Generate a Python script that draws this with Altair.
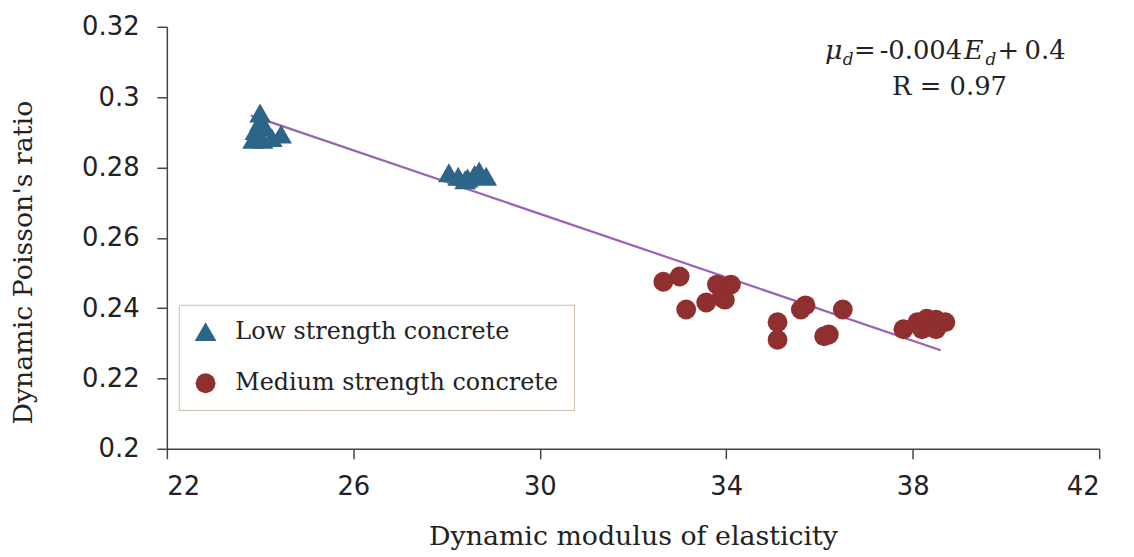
import altair as alt
import pandas as pd

# ---- data ----
low_x = [24.0, 23.9, 24.1, 23.85, 24.05, 24.25, 24.45, 24.0]
low_y = [0.2955, 0.2905, 0.2915, 0.2880, 0.2880, 0.2885, 0.2895, 0.2930]

low2_x = [28.05, 28.25, 28.45, 28.6, 28.7, 28.85, 28.4]
low2_y = [0.2785, 0.2775, 0.2770, 0.2780, 0.2790, 0.2775, 0.2765]

med_x = [32.65, 33.0, 33.14, 33.57, 33.9, 33.8, 34.1, 33.97, 35.1, 35.1,
         35.6, 35.7, 36.1, 36.2, 36.5, 37.8, 38.1, 38.2, 38.4, 38.5, 38.7, 38.3, 38.5]
med_y = [0.2475, 0.2490, 0.2396, 0.2416, 0.2430, 0.2467, 0.2467, 0.2424, 0.2360, 0.2310,
         0.2396, 0.2408, 0.2320, 0.2325, 0.2396, 0.2340, 0.2360, 0.2340, 0.2356, 0.2367,
         0.2360, 0.2370, 0.2340]

fit_x = [23.8, 38.6]
fit_y = [0.2948, 0.2280]

series_names = ["Low strength concrete", "Medium strength concrete"]
x_ticks = [22, 26, 30, 34, 38, 42]
y_ticks = [0.2, 0.22, 0.24, 0.26, 0.28, 0.3, 0.32]

rows = []
for x, y in zip(low_x + low2_x, low_y + low2_y):
    rows.append({"E": x, "mu": y, "type": series_names[0]})
for x, y in zip(med_x, med_y):
    rows.append({"E": x, "mu": y, "type": series_names[1]})
df = pd.DataFrame(rows)
fit_df = pd.DataFrame({"E": fit_x, "mu": fit_y})

SERIF = "DejaVu Serif"
SANS = "DejaVu Sans"

xscale = alt.Scale(domain=[22, 42], nice=False, zero=False)
yscale = alt.Scale(domain=[0.2, 0.32], nice=False, zero=False)

xaxis = alt.Axis(values=x_ticks, title="Dynamic modulus of elasticity", grid=False,
                 labelFont=SANS, labelFontSize=26, labelColor="#222222",
                 labelPadding=15, tickSize=10, tickColor="#444444", tickWidth=1.5,
                 domainColor="#444444", domainWidth=1.5,
                 titleFont=SERIF, titleFontSize=27, titleFontWeight="normal",
                 titleColor="#222222", titleY=96, titleBaseline="alphabetic")
yaxis = alt.Axis(values=y_ticks, title="Dynamic Poisson's ratio", grid=False,
                 labelFont=SANS, labelFontSize=26, labelColor="#222222",
                 labelPadding=18, tickSize=10, tickColor="#444444", tickWidth=1.5,
                 domainColor="#444444", domainWidth=1.5,
                 labelExpr="format(datum.value, '.2~f')",
                 titleFont=SERIF, titleFontSize=27, titleFontWeight="normal",
                 titleColor="#222222", titleAngle=-90, titleAlign="center",
                 titleBaseline="alphabetic", titleX=-136, titleY=237)

legend = alt.Legend(
    title=None, orient="none", legendX=12, legendY=280,
    strokeColor="#cdbca8", fillColor="white", padding=15,
    labelFont=SERIF, labelFontSize=24, labelColor="#222222", labelLimit=400,
    symbolSize=420, rowPadding=28, labelOffset=18, symbolStrokeWidth=0,
)

points = alt.Chart(df).mark_point(filled=True, opacity=1).encode(
    x=alt.X("E:Q", scale=xscale, axis=xaxis),
    y=alt.Y("mu:Q", scale=yscale, axis=yaxis),
    color=alt.Color("type:N", scale=alt.Scale(domain=series_names, range=["#2d6589", "#8f2f30"]),
                    legend=legend),
    shape=alt.Shape("type:N", scale=alt.Scale(domain=series_names, range=["triangle-up", "circle"]),
                    legend=legend),
    size=alt.Size("type:N", scale=alt.Scale(domain=series_names, range=[480, 400]), legend=None),
)

fit = alt.Chart(fit_df).mark_line(color="#9a62b4", strokeWidth=2.2).encode(
    x=alt.X("E:Q", scale=xscale),
    y=alt.Y("mu:Q", scale=yscale),
)


def txt(s, x, y, size=26, style="normal"):
    return alt.Chart(pd.DataFrame({"t": [s]})).mark_text(
        font=SERIF, fontSize=size, fontStyle=style, align="left",
        baseline="alphabetic", color="#222222"
    ).encode(x=alt.datum(x, scale=xscale), y=alt.datum(y, scale=yscale), text="t:N")


ann = [
    txt("μ", 36.12, 0.31094, 27, "italic"),
    txt("d", 36.50, 0.30925, 17, "italic"),
    txt("=", 36.74, 0.31094),
    txt("-0.004", 37.29, 0.31094),
    txt("E", 39.10, 0.31094, 27, "italic"),
    txt("d", 39.56, 0.30925, 17, "italic"),
    txt("+", 39.82, 0.31094),
    txt("0.4", 40.40, 0.31094),
]
rline = alt.Chart(pd.DataFrame({"t": ["R = 0.97"]})).mark_text(
    font=SERIF, fontSize=26, align="center", baseline="alphabetic", color="#222222"
).encode(x=alt.datum(38.79, scale=xscale), y=alt.datum(0.30047, scale=yscale), text="t:N")

chart = alt.layer(fit, points, *ann, rline).properties(
    width=939, height=425,
    autosize=alt.AutoSizeParams(type="none"),
    padding={"left": 160, "top": 17, "right": 27, "bottom": 100},
).configure_view(stroke=None)

chart.save("out.html", embed_options={"renderer": "svg", "actions": False})
